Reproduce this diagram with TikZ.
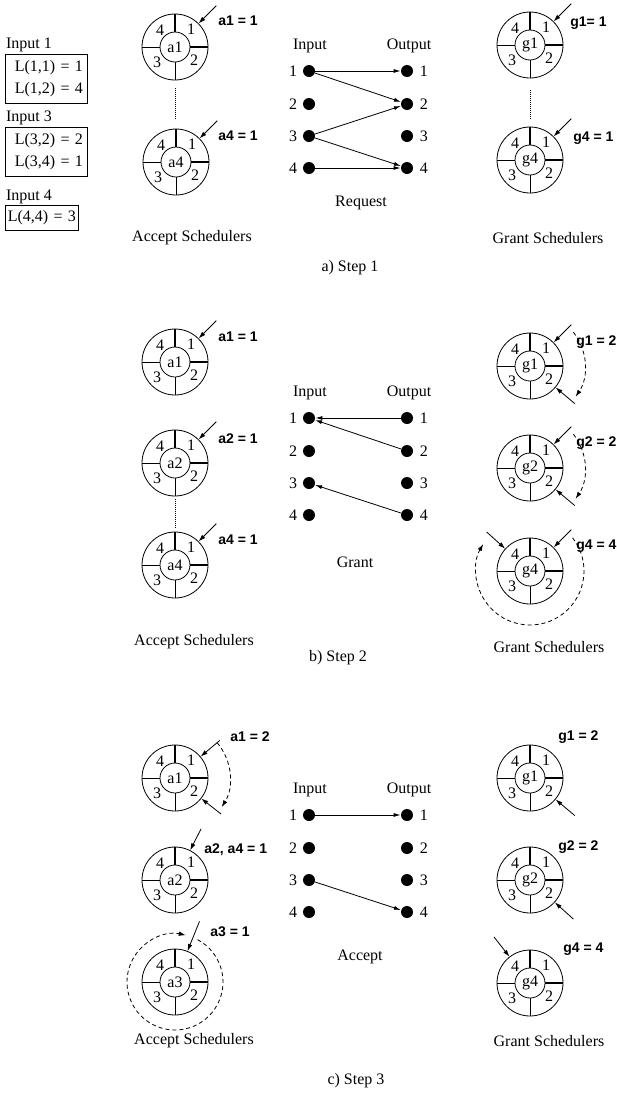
\documentclass[tikz,border=0pt]{standalone}
\usepackage{fontspec}
\setmainfont{Liberation Serif}
\setsansfont{Liberation Sans}
\usetikzlibrary{arrows.meta}
\usetikzlibrary{positioning}

\begin{document}
\begin{tikzpicture}[x=1pt,y=1pt,font=\fontsize{16}{19}\selectfont,line width=0.8pt,
        ring/.style={circle,draw,minimum size=66pt,inner sep=0pt},
        hub/.style={circle,draw,minimum size=30pt,inner sep=0pt},
        num/.style={inner sep=0pt},
        val/.style={anchor=west,inner sep=0pt,font=\sffamily\bfseries\fontsize{14}{17}\selectfont},
        dot/.style={circle,fill=black,minimum size=12pt,inner sep=0pt},
        ptr/.style={{Latex[length=7pt,width=4.5pt]}-},
        edge/.style={-{Latex[length=7pt,width=4pt]}},
        move/.style={dash pattern=on 4pt off 3pt,-{Latex[length=7pt,width=4.5pt]}},
        dots/.style={dash pattern=on 1pt off 1pt,line width=1pt},
        lbox/.style={draw,align=right,font=\fontsize{16}{22}\selectfont,inner sep=0pt}]
\useasboundingbox (0,0) rectangle (616,-1098);

% input lists
\node[lbox,minimum width=82pt,minimum height=49pt,text width=74pt] (box1) at (46,-78.5) {L(1,1) = 1\\L(1,2) = 4};
\node[lbox,minimum width=82pt,minimum height=49pt,text width=74pt] (box3) at (46,-151.5) {L(3,2) = 2\\L(3,4) = 1};
\node[lbox,minimum width=73pt,minimum height=25pt,text width=69pt] (box4) at (41.5,-218) {L(4,4) = 3};
\node[anchor=south west,inner sep=1pt] (lbl1) at (box1.north west) {Input 1};
\node[anchor=south west,inner sep=1pt] (lbl3) at (box3.north west) {Input 3};
\node[anchor=south west,inner sep=1pt] (lbl4) at (box4.north west) {Input 4};

% schedulers: name/step/x/y
\foreach \nm/\st/\x/\y in {a1/1/175/47,a4/1/176/162,g1/1/530/45,g4/1/530/160,
        a1/2/175/362,a2/2/175/463,a4/2/175/565,g1/2/530/366,g2/2/530/468,g4/2/530/571,
        a1/3/175/778,a2/3/175/880,a3/3/175/982,g1/3/530/778,g2/3/530/880,g4/3/530/983}
{
        \node[ring] (\nm-\st) at (\x,-\y) {};
        \node[hub] (\nm-\st-c) at (\x,-\y) {\nm};
        \draw[line width=1.4pt] (\nm-\st-c.north) -- (\nm-\st.north);
        \draw[line width=1.1pt] (\nm-\st-c.east) -- (\nm-\st.east);
        \draw (\nm-\st-c.south) -- (\nm-\st.south) (\nm-\st-c.west) -- (\nm-\st.west);
        \node[num] (\nm-\st-p1) at ([shift={(16,18)}]\nm-\st.center) {1};
        \node[num] (\nm-\st-p2) at ([shift={(19,-13)}]\nm-\st.center) {2};
        \node[num] (\nm-\st-p3) at ([shift={(-18,-15)}]\nm-\st.center) {3};
        \node[num] (\nm-\st-p4) at ([shift={(-15,17)}]\nm-\st.center) {4};
}

% skipped schedulers
\draw[dots] ([yshift=-8pt]a1-1.south) -- ([yshift=10pt]a1-1.south |- a4-1.north);
\draw[dots] ([yshift=-12pt]g1-1.south) -- ([yshift=8pt]g4-1.north);
\draw[dots] ([yshift=-3pt]a2-2.south) -- ([yshift=4pt]a4-2.north);

% pointers
\foreach \n/\a/\l in {a1-1/45/25,a4-1/45/25,g1-1/45/25,g4-1/45/25,
        a1-2/45/25,a2-2/45/25,a4-2/45/25,g1-2/45/25,g1-2/320/25,g2-2/45/25,g2-2/320/25,g4-2/45/25,g4-2/138/25,
        a1-3/40/25,a1-3/322/25,a2-3/63/24,a3-3/68/32,g1-3/320/25,g2-3/318/25,g4-3/128/25}
{
        \draw[ptr] (\n.\a) -- +(\a:\l);
}

% pointer moves
\draw[move] ([shift={(38:55pt)}]g1-2.center) arc[start angle=38,end angle=-34,radius=55pt];
\draw[move] ([shift={(38:55pt)}]g2-2.center) arc[start angle=38,end angle=-34,radius=55pt];
\draw[move] ([shift={(38:54pt)}]g4-2.center) arc[start angle=38,end angle=-210,radius=54pt];
\draw[move] ([shift={(40:55pt)}]a1-3.center) arc[start angle=40,end angle=-32,radius=55pt];
\draw[move] ([shift={(62:48pt)}]a3-3.center) arc[start angle=62,end angle=-283,radius=48pt];

% pointer values
\node[val] (v-a1-1) at (218,-21) {a1 = 1};
\node[val] (v-a4-1) at (218,-136) {a4 = 1};
\node[val] (v-g1-1) at (570,-23) {g1= 1};
\node[val] (v-g4-1) at (573,-138) {g4 = 1};
\node[val] (v-a1-2) at (218,-337) {a1 = 1};
\node[val] (v-a2-2) at (218,-439) {a2 = 1};
\node[val] (v-a4-2) at (218,-540) {a4 = 1};
\node[val] (v-g1-2) at (576,-342) {g1 = 2};
\node[val] (v-g2-2) at (576,-443) {g2 = 2};
\node[val] (v-g4-2) at (576,-546) {g4 = 4};
\node[val] (v-a1-3) at (230,-737) {a1 = 2};
\node[val] (v-a2-3) at (204,-850) {a2, a4 = 1};
\node[val] (v-a3-3) at (210,-932) {a3 = 1};
\node[val] (v-g1-3) at (558,-737) {g1 = 2};
\node[val] (v-g2-3) at (558,-847) {g2 = 2};
\node[val] (v-g4-3) at (563,-949) {g4 = 4};

% inputs and outputs of each step
\foreach \st/\b in {1/71,2/418,3/815}
{
        \node (hin-\st) at (310,-\b+25) {Input};
        \node (hout-\st) at (409,-\b+25) {Output};
        \foreach \k/\d in {1/0,2/33,3/65,4/97}
        {
                \node[dot] (i\k-\st) at (309,-\b-\d) {};
                \node[dot] (o\k-\st) at (407,-\b-\d) {};
                \node[num,left=5pt of i\k-\st] (i\k-\st-n) {\k};
                \node[num,right=6pt of o\k-\st] (o\k-\st-n) {\k};
        }
}

\draw[edge] (i1-1) -- (o1-1);
\draw[edge] (i1-1) -- (o2-1);
\draw[edge] (i3-1) -- (o2-1);
\draw[edge] (i3-1) -- (o4-1);
\draw[edge] (i4-1) -- (o4-1);
\draw[edge] (o1-2) -- (i1-2);
\draw[edge] (o2-2) -- (i1-2);
\draw[edge] (o4-2) -- (i3-2);
\draw[edge] (i1-3) -- (o1-3);
\draw[edge] (i3-3) -- (o4-3);

% captions
\node (req) at (361,-203) {Request};
\node (acc-1) at (192,-238) {Accept Schedulers};
\node (gr-1) at (548,-238) {Grant Schedulers};
\node (step-1) at (350,-268) {a) Step 1};
\node (grant) at (355,-562) {Grant};
\node (acc-2) at (194,-642) {Accept Schedulers};
\node (gr-2) at (549,-647) {Grant Schedulers};
\node (step-2) at (338,-658) {b) Step 2};
\node (accept) at (360,-957) {Accept};
\node (acc-3) at (194,-1041) {Accept Schedulers};
\node (gr-3) at (549,-1041) {Grant Schedulers};
\node (step-3) at (356,-1081) {c) Step 3};
\end{tikzpicture}
\end{document}
